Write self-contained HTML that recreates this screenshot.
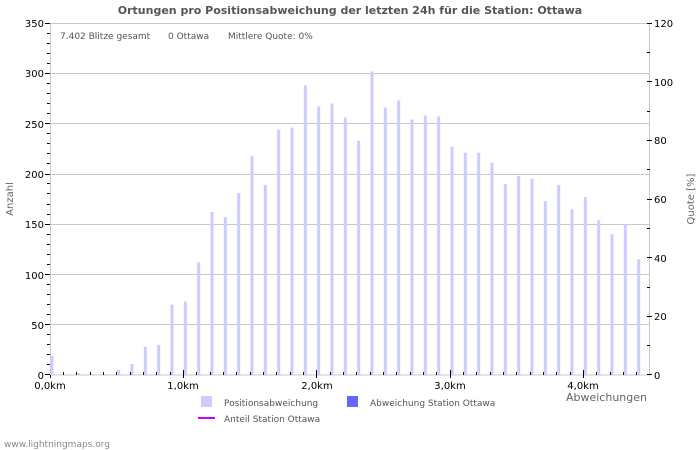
<!DOCTYPE html>
<html><head><meta charset="utf-8"><style>
body{margin:0;background:#fff}
svg{display:block;font-family:"DejaVu Sans","Liberation Sans",sans-serif}
</style></head><body>
<svg width="700" height="450" xmlns="http://www.w3.org/2000/svg">
<rect width="700" height="450" fill="#fff"/>
<text x="350" y="14" text-anchor="middle" font-size="11" font-weight="bold" fill="#555">Ortungen pro Positionsabweichung der letzten 24h für die Station: Ottawa</text>
<g stroke="#c8c8c8" stroke-width="1">
<line x1="50" x2="650" y1="324.5" y2="324.5"/><line x1="50" x2="650" y1="274.5" y2="274.5"/>
<line x1="50" x2="650" y1="224.5" y2="224.5"/><line x1="50" x2="650" y1="174.5" y2="174.5"/>
<line x1="50" x2="650" y1="123.5" y2="123.5"/><line x1="50" x2="650" y1="73.5" y2="73.5"/>
</g>
<rect x="50.5" y="23.5" width="599" height="351.5" fill="none" stroke="#c8c8c8"/>
<g fill="#ccccff">
<rect x="50.5" y="355.9" width="3" height="19.1"/>
<rect x="77.2" y="373" width="3" height="2"/>
<rect x="90.5" y="374" width="3" height="1"/>
<rect x="103.8" y="374" width="3" height="1"/>
<rect x="117.2" y="370" width="3" height="5"/>
<rect x="130.5" y="363.9" width="3" height="11.1"/>
<rect x="143.8" y="346.8" width="3" height="28.2"/>
<rect x="157.2" y="344.8" width="3" height="30.2"/>
<rect x="170.5" y="304.6" width="3" height="70.4"/>
<rect x="183.8" y="301.6" width="3" height="73.4"/>
<rect x="197.2" y="262.4" width="3" height="112.6"/>
<rect x="210.5" y="212.1" width="3" height="162.9"/>
<rect x="223.8" y="217.1" width="3" height="157.9"/>
<rect x="237.2" y="193.0" width="3" height="182"/>
<rect x="250.5" y="155.8" width="3" height="219.2"/>
<rect x="263.8" y="184.9" width="3" height="190.1"/>
<rect x="277.2" y="129.6" width="3" height="245.4"/>
<rect x="290.5" y="127.6" width="3" height="247.4"/>
<rect x="303.8" y="85.4" width="3" height="289.6"/>
<rect x="317.2" y="106.5" width="3" height="268.5"/>
<rect x="330.5" y="103.5" width="3" height="271.5"/>
<rect x="343.8" y="117.5" width="3" height="257.5"/>
<rect x="357.2" y="140.7" width="3" height="234.3"/>
<rect x="370.5" y="71.3" width="3" height="303.7"/>
<rect x="383.8" y="107.5" width="3" height="267.5"/>
<rect x="397.2" y="100.4" width="3" height="274.6"/>
<rect x="410.5" y="119.5" width="3" height="255.5"/>
<rect x="423.8" y="115.5" width="3" height="259.5"/>
<rect x="437.2" y="116.5" width="3" height="258.5"/>
<rect x="450.5" y="146.7" width="3" height="228.3"/>
<rect x="463.8" y="152.7" width="3" height="222.3"/>
<rect x="477.2" y="152.7" width="3" height="222.3"/>
<rect x="490.5" y="162.8" width="3" height="212.2"/>
<rect x="503.8" y="183.9" width="3" height="191.1"/>
<rect x="517.2" y="175.9" width="3" height="199.1"/>
<rect x="530.5" y="178.9" width="3" height="196.1"/>
<rect x="543.8" y="201.0" width="3" height="174"/>
<rect x="557.2" y="184.9" width="3" height="190.1"/>
<rect x="570.5" y="209.1" width="3" height="165.9"/>
<rect x="583.8" y="197.0" width="3" height="178"/>
<rect x="597.2" y="220.1" width="3" height="154.9"/>
<rect x="610.5" y="234.2" width="3" height="140.8"/>
<rect x="623.8" y="224.1" width="3" height="150.9"/>
<rect x="637.2" y="259.3" width="3" height="115.7"/>
</g>
<g stroke="#000" stroke-width="1">
<path d="M63.5 372V375M76.5 372V375M90.5 372V375M103.5 372V375M116.5 372V375M130.5 372V375M143.5 372V375M156.5 372V375M170.5 372V375M196.5 372V375M210.5 372V375M223.5 372V375M236.5 372V375M250.5 372V375M263.5 372V375M276.5 372V375M290.5 372V375M303.5 372V375M330.5 372V375M343.5 372V375M356.5 372V375M370.5 372V375M383.5 372V375M396.5 372V375M410.5 372V375M423.5 372V375M436.5 372V375M463.5 372V375M476.5 372V375M490.5 372V375M503.5 372V375M516.5 372V375M530.5 372V375M543.5 372V375M556.5 372V375M570.5 372V375M596.5 372V375M610.5 372V375M623.5 372V375M636.5 372V375"/>
<path d="M183.5 370V378M316.5 370V378M450.5 370V378M583.5 370V378M50.5 375V378"/>
<path d="M47 364.5H50M47 354.5H50M47 344.5H50M47 334.5H50M47 314.5H50M47 304.5H50M47 294.5H50M47 284.5H50M47 264.5H50M47 254.5H50M47 244.5H50M47 234.5H50M47 214.5H50M47 204.5H50M47 193.5H50M47 183.5H50M47 163.5H50M47 153.5H50M47 143.5H50M47 133.5H50M47 113.5H50M47 103.5H50M47 93.5H50M47 83.5H50M47 63.5H50M47 53.5H50M47 43.5H50M47 33.5H50"/>
<path d="M45 374.5H50M45 324.5H50M45 274.5H50M45 224.5H50M45 174.5H50M45 123.5H50M45 73.5H50M45 23.5H50"/>
<path d="M647 345.5H650M647 287.5H650M647 228.5H650M647 169.5H650M647 111.5H650M647 52.5H650"/>
<path d="M647 374.5H652M647 316.5H652M647 257.5H652M647 199.5H652M647 140.5H652M647 81.5H652M647 23.5H652"/>
</g>
<g font-size="10" fill="#000">
<text x="50" y="389" text-anchor="middle">0,0km</text>
<text x="183" y="389" text-anchor="middle">1,0km</text>
<text x="317" y="389" text-anchor="middle">2,0km</text>
<text x="450" y="389" text-anchor="middle">3,0km</text>
<text x="583" y="389" text-anchor="middle">4,0km</text>
<g text-anchor="end">
<text x="44" y="379">0</text><text x="44" y="329">50</text><text x="44" y="279">100</text>
<text x="44" y="228">150</text><text x="44" y="178">200</text><text x="44" y="128">250</text>
<text x="44" y="77">300</text><text x="44" y="27">350</text>
</g>
<text x="654" y="379">0</text><text x="654" y="320">20</text><text x="654" y="262">40</text>
<text x="654" y="203">60</text><text x="654" y="144">80</text><text x="654" y="86">100</text>
<text x="654" y="27">120</text>
</g>
<text x="60" y="39" font-size="9" fill="#555">7.402 Blitze gesamt</text>
<text x="168" y="39" font-size="9" fill="#555">0 Ottawa</text>
<text x="228" y="39" font-size="9" fill="#555">Mittlere Quote: 0%</text>
<text transform="translate(13,199) rotate(-90)" text-anchor="middle" font-size="10" fill="#666">Anzahl</text>
<text transform="translate(694,199) rotate(-90)" text-anchor="middle" font-size="10" fill="#666">Quote [%]</text>
<text x="647" y="401" text-anchor="end" font-size="11" fill="#666">Abweichungen</text>
<rect x="201" y="396" width="11" height="11" fill="#ccccff"/>
<text x="224" y="406" font-size="9" fill="#555">Positionsabweichung</text>
<rect x="347" y="396" width="11" height="11" fill="#6666ff"/>
<text x="370" y="406" font-size="9" fill="#555">Abweichung Station Ottawa</text>
<line x1="198" y1="418" x2="215" y2="418" stroke="#cc00ff" stroke-width="2"/>
<text x="224" y="422" font-size="9" fill="#555">Anteil Station Ottawa</text>
<text x="4" y="447" font-size="9" fill="#888">www.lightningmaps.org</text>
</svg>
</body></html>
